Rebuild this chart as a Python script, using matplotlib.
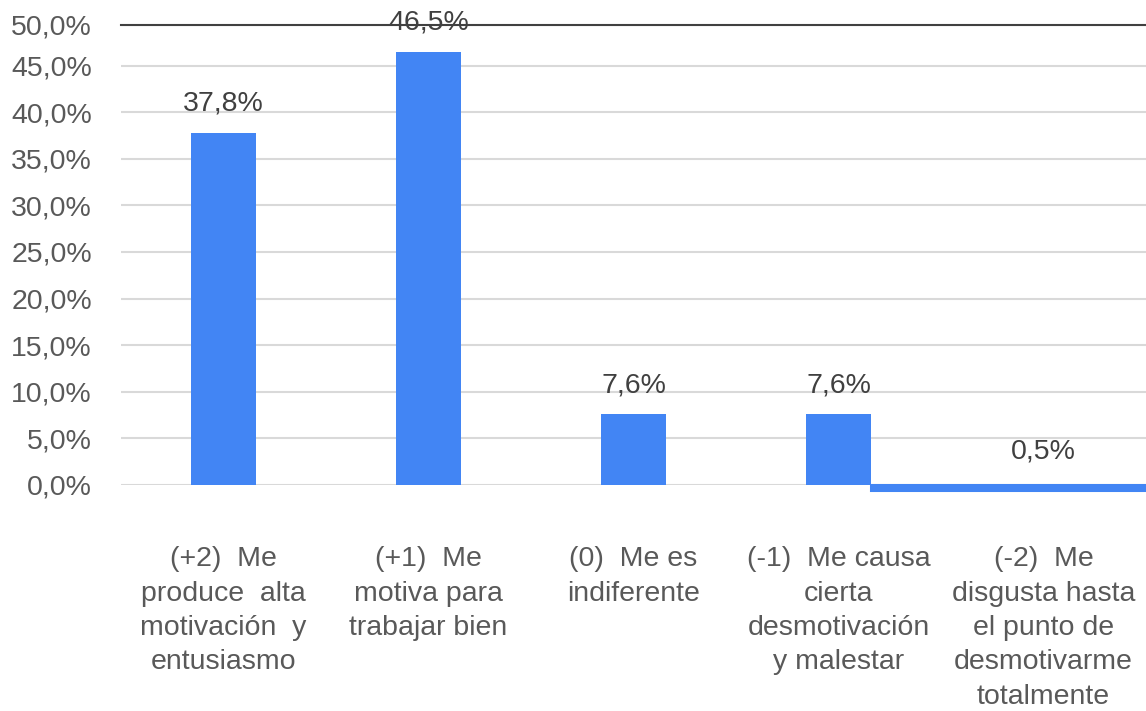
import matplotlib
matplotlib.use("Agg")
import matplotlib.pyplot as plt
import numpy as np

categories = [
    "(+2)  Me\nproduce  alta\nmotivación  y\nentusiasmo",
    "(+1)  Me\nmotiva para\ntrabajar bien",
    "(0)  Me es\nindiferente",
    "(-1)  Me causa\ncierta\ndesmotivación\ny malestar",
    "(-2)  Me\ndisgusta hasta\nel punto de\ndesmotivarme\ntotalmente",
]
values = [37.8, 46.5, 7.6, 7.6, 0.5]
yticks = [0, 5, 10, 15, 20, 25, 30, 35, 40, 45, 50]

plt.rcParams['font.family'] = ['Liberation Sans', 'DejaVu Sans']

BLUE = "#4285F4"
YTOP = 49.35  # the reference draws its top line slightly below 50 %

fig = plt.figure(figsize=(11.46, 7.11), dpi=100)
ax = fig.add_axes([121/1146, 226/711, 1025/1146, 460/711])

x = np.arange(len(categories))
bw = 0.317
ax.bar(x[:4], values[:4], width=bw, color=BLUE, zorder=3)
# last bar as rendered in the reference (flat band below the baseline)
left = x[3] + bw / 2
ax.bar([left], [-values[4]], width=[4.5 - left], align='edge', color=BLUE,
       edgecolor=BLUE, linewidth=2.2, zorder=3, clip_on=False)

for xi, v in zip(x, values):
    ax.annotate(f"{v:.1f}%".replace('.', ','), (xi, v), xytext=(0, 11.5),
                textcoords='offset points', ha='center', va='bottom',
                fontsize=20.5, color='#404040', zorder=5)

ax.set_xlim(-0.5, 4.5)
ax.set_ylim(0, YTOP)
ypos = [t if t < YTOP else YTOP for t in yticks]
ax.set_yticks(ypos)
ax.set_yticklabels([f"{t:.1f}%".replace('.', ',') for t in yticks],
                   fontsize=20.5, color='#595959')
ax.yaxis.grid(True, color='#d9d9d9', linewidth=1.5, zorder=0)
ax.set_axisbelow(True)
ax.tick_params(axis='y', length=0, pad=21)
ax.set_xticks(x)
ax.set_xticklabels(categories, fontsize=20.5, color='#595959',
                   linespacing=1.42, ha='center')
ax.tick_params(axis='x', length=0, pad=44)

for s in ['left', 'right', 'bottom']:
    ax.spines[s].set_visible(False)
ax.spines['top'].set_color('#404040')
ax.spines['top'].set_linewidth(1.5)
ax.spines['top'].set_zorder(4)

fig.savefig("out.png", dpi=100)
